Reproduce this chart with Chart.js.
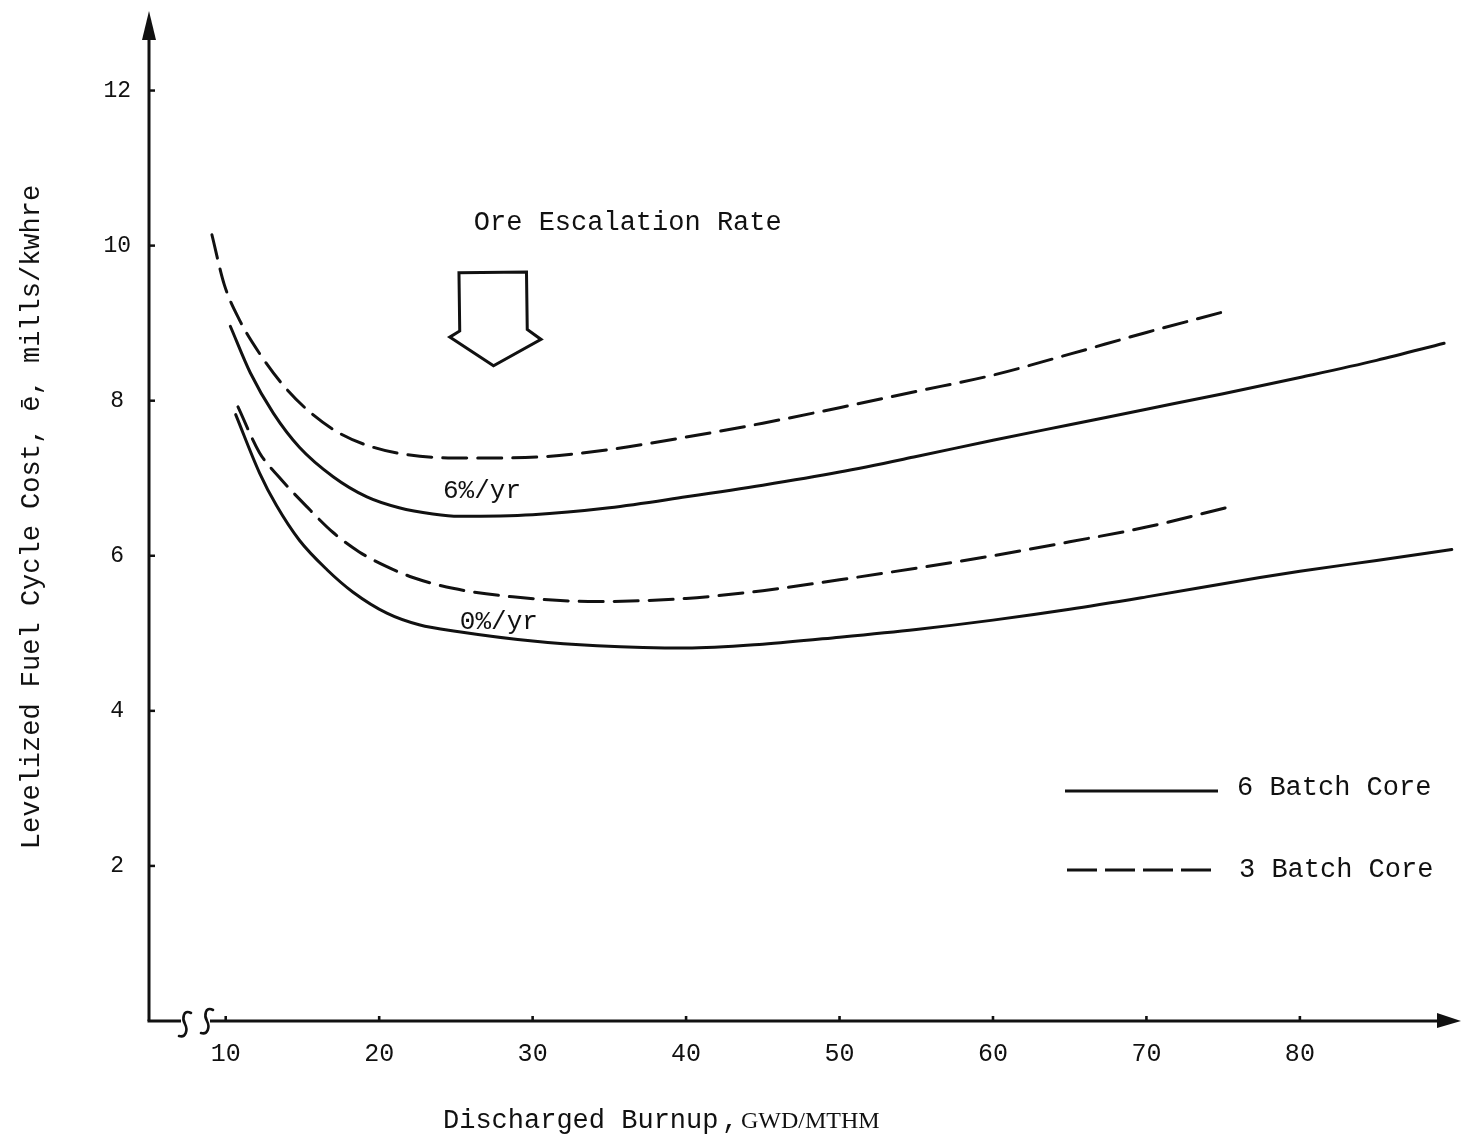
<!DOCTYPE html>
<html><head><meta charset="utf-8">
<script src="https://cdn.jsdelivr.net/npm/chart.js@4.4.1/dist/chart.umd.min.js"></script>
<style>html,body{margin:0;padding:0;background:#fff}#wrap{width:1461px;height:1138px}</style>
</head><body><div id="wrap"><canvas id="c" width="1461" height="1138"></canvas></div>
<script>
// ---- data ----
const xTickValues = [10, 20, 30, 40, 50, 60, 70, 80];
const yTickValues = [2, 4, 6, 8, 10, 12];

// 3 batch core, 6%/yr ore escalation (dashed, upper)
const batch3Esc6X = [9.1, 9.9, 10.9, 12.2, 13.7, 15.5, 17.6, 19.6, 21.3, 23.5, 26.5, 30.9, 35, 40, 45, 50, 55, 60, 65, 70, 75.1];
const batch3Esc6Y = [10.14, 9.50, 9.04, 8.61, 8.21, 7.85, 7.56, 7.40, 7.32, 7.27, 7.26, 7.28, 7.37, 7.53, 7.71, 7.91, 8.12, 8.33, 8.60, 8.88, 9.15];
// 6 batch core, 6%/yr (solid, upper)
const batch6Esc6X = [10.3, 11.6, 13.1, 14.8, 17.0, 19.2, 21.3, 23.5, 25.2, 30, 35, 40, 45, 50, 55, 60, 65, 70, 75, 80, 85, 89.4];
const batch6Esc6Y = [8.96, 8.36, 7.84, 7.40, 7.02, 6.76, 6.62, 6.54, 6.51, 6.53, 6.62, 6.76, 6.91, 7.08, 7.28, 7.49, 7.69, 7.89, 8.09, 8.30, 8.52, 8.74];
// 3 batch core, 0%/yr (dashed, lower)
const batch3Esc0X = [10.8, 12.2, 13.5, 15.3, 17.0, 18.7, 20.5, 22.2, 24.8, 28.7, 34.2, 40, 45, 50, 55, 60, 65, 70, 75.2];
const batch3Esc0Y = [7.92, 7.33, 7.01, 6.63, 6.30, 6.05, 5.86, 5.72, 5.58, 5.47, 5.41, 5.45, 5.55, 5.69, 5.84, 6.00, 6.18, 6.37, 6.62];
// 6 batch core, 0%/yr (solid, lower)
const batch6Esc0X = [10.65, 12.2, 13.3, 14.8, 16.6, 18.3, 20.5, 22.6, 25.2, 30, 34.2, 40, 45, 50, 55, 60, 65, 70, 77.4, 80, 85, 89.9];
const batch6Esc0Y = [7.82, 7.07, 6.65, 6.20, 5.82, 5.53, 5.26, 5.11, 5.02, 4.90, 4.84, 4.81, 4.86, 4.95, 5.05, 5.17, 5.31, 5.47, 5.72, 5.80, 5.94, 6.08];

const legendLabels = ['6 Batch Core', '3 Batch Core'];
const curveLabels = ['6%/yr', '0%/yr'];
const noteText = 'Ore Escalation Rate';
const xTitle1 = 'Discharged Burnup';
const xTitleSep = ',';
const xTitle2 = 'GWD/MTHM';
const yTitle = 'Levelized Fuel Cycle Cost, \u0113, mills/kwhre';

// ---- styling ----
const INK = '#111';
const MONO = '"Liberation Mono", "DejaVu Sans Mono", monospace';
const pts = (xs, ys) => xs.map((x, i) => ({x, y: ys[i]}));
const lineDs = (label, xs, ys, dashed) => ({
  label, data: pts(xs, ys), borderColor: INK, borderWidth: 3, pointRadius: 0,
  borderDash: dashed ? [24, 11] : [], cubicInterpolationMode: 'monotone', fill: false,
  borderCapStyle: 'round'
});

const decor = {
  id: 'decor',
  afterDraw(chart) {
    const ctx = chart.ctx, xs = chart.scales.x, ys = chart.scales.y;
    const {left: L, right: R, top: T, bottom: B} = chart.chartArea;
    const px = v => xs.getPixelForValue(v), py = v => ys.getPixelForValue(v);
    ctx.save();
    ctx.strokeStyle = INK; ctx.fillStyle = INK; ctx.lineCap = 'butt';
    // y axis with arrow
    ctx.lineWidth = 3;
    ctx.beginPath(); ctx.moveTo(L, B); ctx.lineTo(L, T + 20); ctx.stroke();
    ctx.beginPath(); ctx.moveTo(L, T - 2); ctx.lineTo(L - 7, T + 27); ctx.lineTo(L + 7, T + 27); ctx.closePath(); ctx.fill();
    // y tick nubs
    ctx.lineWidth = 2.5;
    yTickValues.forEach(v => { ctx.beginPath(); ctx.moveTo(L, py(v)); ctx.lineTo(L + 6, py(v)); ctx.stroke(); });
    // x axis with break and arrow
    ctx.lineWidth = 3;
    ctx.beginPath(); ctx.moveTo(L - 1.5, B); ctx.lineTo(181, B); ctx.stroke();
    ctx.beginPath(); ctx.moveTo(210, B); ctx.lineTo(R - 20, B); ctx.stroke();
    ctx.beginPath(); ctx.moveTo(R, B); ctx.lineTo(R - 24, B - 8); ctx.lineTo(R - 24, B + 7); ctx.closePath(); ctx.fill();
    // break squiggles (integral-sign shapes)
    ctx.lineWidth = 2.6; ctx.lineCap = 'round';
    [[185, 0], [207, -3]].forEach(([cx, dy]) => {
      ctx.beginPath();
      ctx.moveTo(cx + 6, B - 8 + dy);
      ctx.bezierCurveTo(cx - 2, B - 12 + dy, cx - 3, B - 2 + dy, cx, B + 3 + dy);
      ctx.bezierCurveTo(cx + 3, B + 9 + dy, cx + 1, B + 17 + dy, cx - 6, B + 15 + dy);
      ctx.stroke();
    });
    ctx.lineCap = 'butt';
    // x tick nubs
    xTickValues.forEach(v => { ctx.beginPath(); ctx.moveTo(px(v), B); ctx.lineTo(px(v), B - 5); ctx.stroke(); });

    // hollow down arrow (data coordinates)
    const arrow = [[25.2, 9.65], [29.6, 9.66], [29.65, 8.92], [30.55, 8.79], [27.45, 8.45], [24.6, 8.82], [25.25, 8.90]];
    ctx.lineWidth = 3; ctx.lineJoin = 'miter';
    ctx.beginPath();
    arrow.forEach(([a, b], i) => i ? ctx.lineTo(px(a), py(b)) : ctx.moveTo(px(a), py(b)));
    ctx.closePath(); ctx.stroke();

    // texts
    ctx.textBaseline = 'middle'; ctx.textAlign = 'center';
    ctx.font = '27px ' + MONO;
    ctx.fillText(noteText, px(36.2), py(10.30));
    ctx.font = '26px ' + MONO;
    ctx.fillText(curveLabels[0], px(26.7), py(6.84));
    ctx.fillText(curveLabels[1], px(27.8), py(5.14));

    // legend
    ctx.lineWidth = 3;
    ctx.beginPath(); ctx.moveTo(1065, 791); ctx.lineTo(1218, 791); ctx.stroke();
    ctx.setLineDash([30, 8]);
    ctx.beginPath(); ctx.moveTo(1067, 870); ctx.lineTo(1218, 870); ctx.stroke();
    ctx.setLineDash([]);
    ctx.textAlign = 'left'; ctx.font = '27px ' + MONO;
    ctx.fillText(legendLabels[0], 1237, 788);
    ctx.fillText(legendLabels[1], 1239, 870);

    // x title
    ctx.textBaseline = 'alphabetic';
    ctx.fillText(xTitle1, 443, 1128);
    ctx.fillText(xTitleSep, 722, 1128);
    ctx.font = '24px "Liberation Serif", serif';
    ctx.fillText(xTitle2, 741, 1128, 157);
    ctx.restore();
  }
};

new Chart(document.getElementById('c'), {
  type: 'line',
  data: {
    datasets: [
      lineDs('3 Batch Core 6%/yr', batch3Esc6X, batch3Esc6Y, true),
      lineDs('6 Batch Core 6%/yr', batch6Esc6X, batch6Esc6Y, false),
      lineDs('3 Batch Core 0%/yr', batch3Esc0X, batch3Esc0Y, true),
      lineDs('6 Batch Core 0%/yr', batch6Esc0X, batch6Esc0Y, false)
    ]
  },
  options: {
    responsive: false, animation: false, devicePixelRatio: 1,
    layout: {padding: {top: 13, left: 0, right: 0, bottom: 0}},
    plugins: {legend: {display: false}, tooltip: {enabled: false}},
    scales: {
      x: {
        type: 'linear', min: 5, max: 90.5,
        afterBuildTicks: s => { s.ticks = xTickValues.map(v => ({value: v})); },
        afterFit: s => { s.height = 117; s.paddingLeft = 0; s.paddingRight = 0; },
        grid: {display: false, drawTicks: false}, border: {display: false},
        ticks: {color: INK, font: {family: MONO, size: 25}, padding: 18, maxRotation: 0, autoSkip: false}
      },
      y: {
        type: 'linear', min: 0, max: 13,
        afterBuildTicks: s => { s.ticks = yTickValues.map(v => ({value: v})); },
        afterFit: s => { s.width = 149; s.paddingTop = 0; s.paddingBottom = 0; },
        grid: {display: false, drawTicks: false}, border: {display: false},
        ticks: {color: INK, font: {family: MONO, size: 23}, padding: 18, crossAlign: 'center', autoSkip: false},
        title: {display: true, text: yTitle, color: INK, font: {family: MONO, size: 27}, padding: {top: 16, bottom: 0}}
      }
    }
  },
  plugins: [decor]
});
</script></body></html>
